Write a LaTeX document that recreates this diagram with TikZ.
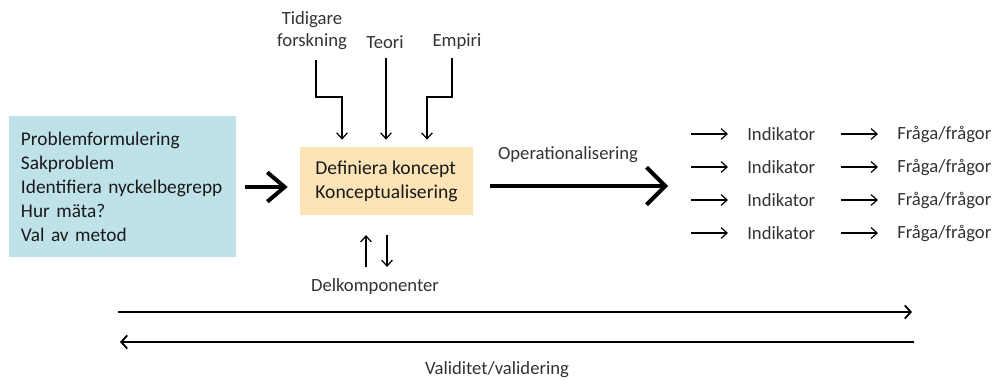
\documentclass[tikz,border=0pt]{standalone}
\usepackage{fontspec}
\setmainfont{Carlito}
\usetikzlibrary{arrows.meta}
\definecolor{boxblue}{HTML}{BFE2E8}
\definecolor{boxorange}{HTML}{FCE4B6}
\definecolor{txt}{HTML}{1A1A1A}
\definecolor{lbl}{HTML}{333333}
\begin{document}
\begin{tikzpicture}[x=0.75pt,y=-0.75pt,
  bluebox/.style={fill=boxblue,minimum width=170.25pt,minimum height=105.75pt,text width=152.25pt,align=left,inner xsep=9pt,font=\fontsize{14.5}{18}\selectfont,text=txt},
  orangebox/.style={fill=boxorange,minimum width=129.75pt,minimum height=51pt,align=left,font=\fontsize{14.7}{18}\selectfont,text=txt},
  lab/.style={font=\fontsize{14}{16.5}\selectfont,text=lbl,inner sep=0pt},
  bigarrow/.style={line width=3pt,-{Straight Barb[length=13pt,width=22pt]}},
  opsarrow/.style={line width=3pt,-{Straight Barb[length=14pt,width=28pt]}},
  thinarrow/.style={line width=0.9pt,-{Straight Barb[length=4.5pt,width=8pt]}},
  longarrow/.style={line width=1.4pt,-{Straight Barb[length=4.5pt,width=10pt]}}
]
\useasboundingbox (0,0) rectangle (994,379);

\node[bluebox] (pb) at (122.5,186.5) {Problemformulering\\Sakproblem\\Identifiera nyckelbegrepp\\Hur mäta?\\Val av metod};
\node[orangebox] (def) at (386.5,181) {Definiera koncept\\Konceptualisering};

\draw[bigarrow,shorten <=6.75pt,shorten >=9pt] (pb.east |- 0,187) -- (def.west |- 0,187);

% top inputs
\node[lab,align=center] (tf) at (312,31) {Tidigare\\forskning};
\node[lab] (te) at (385,42) {Teori};
\node[lab] (em) at (457,42) {Empiri};
\coordinate (tfs) at (316,60);
\coordinate (tfb) at (342,97);
\coordinate (tes) at (386,58);
\coordinate (ems) at (452,58);
\coordinate (emb) at (427,97);
\draw[thinarrow,shorten >=5.25pt] (tfs) |- (tfb) -- (tfb |- def.north);
\draw[thinarrow,shorten >=5.25pt] (tes) -- (tes |- def.north);
\draw[thinarrow,shorten >=5.25pt] (ems) |- (emb) -- (emb |- def.north);

% delkomponenter
\node[lab] (dk) at (375,287) {Delkomponenter};
\coordinate (ua) at (366,267);
\coordinate (da) at (387,235);
\draw[thinarrow] (ua) -- (ua |- da);
\draw[thinarrow] (da) -- (da |- ua);

% operationalisering
\coordinate (opend) at (668,186);
\draw[opsarrow,shorten <=12.75pt] (def.east |- opend) -- (opend);
\node[lab] (op) at (568,155) {Operationalisering};

% indicators
\foreach \i/\y in {1/134,2/167,3/200,4/233}{
  \coordinate (a\i) at (691,\y);
  \node[lab,anchor=west] (ind\i) at (747,\y) {Indikator};
  \node[lab,anchor=west] (fr\i) at (897,\y) {Fråga/frågor};
  \draw[thinarrow,shorten >=14.25pt] (a\i) -- (ind\i.west);
  \draw[thinarrow,shorten <=18.75pt,shorten >=14.25pt] (ind\i.east) -- (fr\i.west);
}

% validation arrows
\coordinate (l1) at (118,312);
\coordinate (r1) at (912,312);
\coordinate (l2) at (120,342);
\coordinate (r2) at (914,342);
\draw[longarrow] (l1) -- (r1);
\draw[longarrow] (r2) -- (l2);
\node[lab] (val) at (497,370) {Validitet/validering};
\end{tikzpicture}
\end{document}
